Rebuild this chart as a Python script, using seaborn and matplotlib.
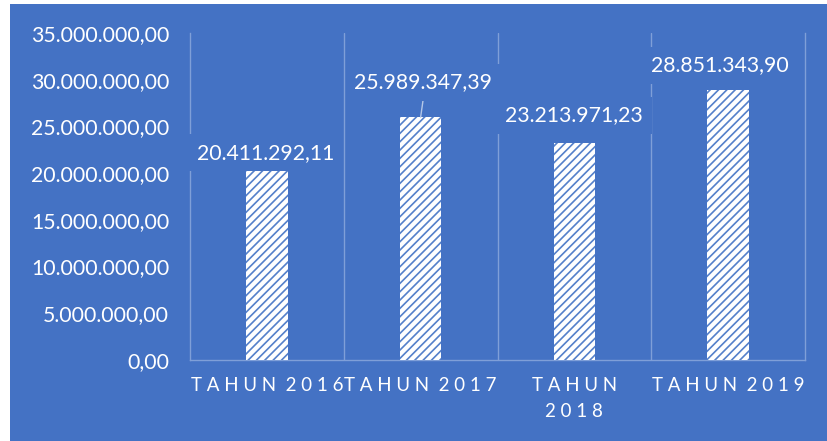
import matplotlib
matplotlib.use("Agg")
import matplotlib.pyplot as plt
import seaborn as sns
import pandas as pd
from matplotlib.ticker import FuncFormatter, MultipleLocator
from matplotlib.patches import Rectangle

categories = ["TAHUN 2016", "TAHUN 2017", "TAHUN 2018", "TAHUN 2019"]
values = [20411292.11, 25989347.39, 23213971.23, 28851343.90]
tick_labels = ["T A H U N  2 0 1 6", "T A H U N  2 0 1 7", "T A H U N\n2 0 1 8", "T A H U N  2 0 1 9"]

BG = "#4472C4"
GRID = "#7F9FD8"
HATCH = "#5580CA"

def idr(v, decimals=2):
    s = f"{v:,.{decimals}f}"
    return s.replace(",", "X").replace(".", ",").replace("X", ".")

sns.set_theme(style="white")
plt.rcParams["font.family"] = ["Lato", "DejaVu Sans"]
plt.rcParams["hatch.linewidth"] = 1.2

fig = plt.figure(figsize=(8.27, 4.41), dpi=100)
fig.patch.set_facecolor("white")
fig.patches.append(Rectangle((10 / 827, 0), 1 - 10 / 827, 1 - 4 / 441,
                             transform=fig.transFigure, facecolor=BG,
                             edgecolor="none", zorder=-5))

ax = fig.add_axes([190 / 827, 1 - 360 / 441, (805 - 190) / 827, (360 - 33) / 441])
ax.set_zorder(2)
ax.set_facecolor("none")

df = pd.DataFrame({"cat": categories, "val": values})
sns.barplot(data=df, x="cat", y="val", ax=ax, color="white", width=0.27,
            edgecolor=HATCH, linewidth=0, zorder=3)
for p in ax.patches:
    p.set_hatch("////")
    p.set_edgecolor(HATCH)
    p.set_linewidth(0)
    p.set_facecolor("white")

ax.set_ylim(0, 35000000)
ax.set_xlim(-0.5, len(categories) - 0.5)
ax.yaxis.set_major_locator(MultipleLocator(5000000))
ax.yaxis.set_major_formatter(FuncFormatter(lambda v, _: idr(v)))
ax.set_xlabel("")
ax.set_ylabel("")
ax.set_xticks(range(len(categories)))
ax.set_xticklabels(tick_labels, fontsize=13.5, color="white", linespacing=1.7)
ax.tick_params(axis="y", colors="white", labelsize=15.3, length=0, pad=15)
ax.tick_params(axis="x", colors="white", length=0, pad=12)
for lab in ax.get_yticklabels():
    lab.set_color("white")

ax.spines["top"].set_visible(False)
for s in ["left", "right", "bottom"]:
    ax.spines[s].set_color(GRID)
    ax.spines[s].set_linewidth(1.0)
for b in range(1, len(categories)):
    ax.axvline(b - 0.5, color=GRID, linewidth=1.0, zorder=1)

offsets = [(-1, 12), (2, 25), (0, 20), (-6, 18)]
for i, (v, off) in enumerate(zip(values, offsets)):
    ax.annotate(idr(v), xy=(i, v), xytext=off, textcoords="offset points",
                ha="center", va="center", color="white", fontsize=15.3,
                bbox=dict(boxstyle="square,pad=0.4", facecolor=BG,
                          edgecolor="none"), zorder=5)
    if i == 1:
        ax.annotate("", xy=(i, v), xytext=(i + 0.02, v + 2300000),
                    arrowprops=dict(arrowstyle="-", color="#B4C7E7", lw=1.0,
                                    shrinkA=0, shrinkB=0),
                    zorder=4)

fig.savefig("out.png", dpi=100, facecolor=fig.get_facecolor())
